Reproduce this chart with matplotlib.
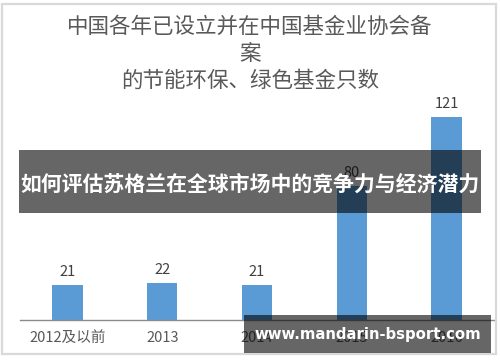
import matplotlib
matplotlib.use('Agg')
import matplotlib.pyplot as plt
from matplotlib.patches import Rectangle

plt.rcParams['font.family'] = ['Noto Sans CJK SC', 'DejaVu Sans']

# data
years = ['2012及以前', '2013', '2014', '2015', '2016']
fundCounts = [21, 22, 21, 80, 121]
titleText = '中国各年已设立并在中国基金业协会备\n案\n的节能环保、绿色基金只数'
bannerText = '如何评估苏格兰在全球市场中的竞争力与经济潜力'
watermarkText = 'www.mandarin-bsport.com'

W, H = 500, 362
BAR_COLOR = '#5b9bd5'
TEXT_COLOR = '#595959'


def px(x0, y0, x1, y1):
    # pixel box (top-left origin) -> figure fraction rect
    return (x0 / W, 1 - y1 / H, (x1 - x0) / W, (y1 - y0) / H)


def main() -> None:
    fig = plt.figure(figsize=(W / 100, H / 100), dpi=100)

    # light outer frame
    fx, fy, fw, fh = px(2, 4, 496, 354)
    fig.patches.append(Rectangle((fx, fy), fw, fh, transform=fig.transFigure,
                                 facecolor='none', edgecolor='#d9d9d9', lw=1.6))

    ax = fig.add_axes(px(20, 100, 494, 320))
    xs = list(range(len(years)))
    bars = ax.bar(xs, fundCounts, width=0.32, color=BAR_COLOR, zorder=2)
    for bar, v in zip(bars, fundCounts):
        ax.annotate(str(v), xy=(bar.get_x() + bar.get_width() / 2, v),
                    xytext=(0, 4), textcoords='offset points',
                    ha='center', va='bottom', fontsize=10.5, color='#404040')

    ax.set_xlim(-0.5, len(years) - 0.5)
    ax.set_ylim(0, 131)
    ax.set_xticks(xs)
    ax.set_xticklabels(years, fontsize=10.5, color=TEXT_COLOR)
    ax.tick_params(axis='x', length=0, pad=8)
    ax.set_yticks([])
    for side in ['top', 'right', 'left']:
        ax.spines[side].set_visible(False)
    ax.spines['bottom'].set_color('#8c8c8c')
    ax.spines['bottom'].set_linewidth(1.0)

    fig.text(0.5, 1 - 54 / H, titleText, ha='center', va='center',
             fontsize=15.5, color=TEXT_COLOR, linespacing=1.3)

    # dark overlay banner across the middle
    bx, by, bw, bh = px(19, 150, 481, 213)
    fig.patches.append(Rectangle((bx, by), bw, bh, transform=fig.transFigure,
                                 facecolor='black', alpha=0.6, zorder=5))
    fig.text(0.5, 1 - 184 / H, bannerText, ha='center', va='center',
             fontsize=15, fontweight='bold', color='white', zorder=6)

    # watermark box bottom right
    wx, wy, ww, wh = px(244, 315, 491, 353)
    fig.patches.append(Rectangle((wx, wy), ww, wh, transform=fig.transFigure,
                                 facecolor='black', alpha=0.6, zorder=5))
    fig.text(368 / W, 1 - 335 / H, watermarkText, ha='center', va='center',
             fontsize=10.7, fontweight='bold', color='white', zorder=6,
             family=['DejaVu Sans'])

    fig.savefig('out.png', dpi=100)


if __name__ == '__main__':
    main()
